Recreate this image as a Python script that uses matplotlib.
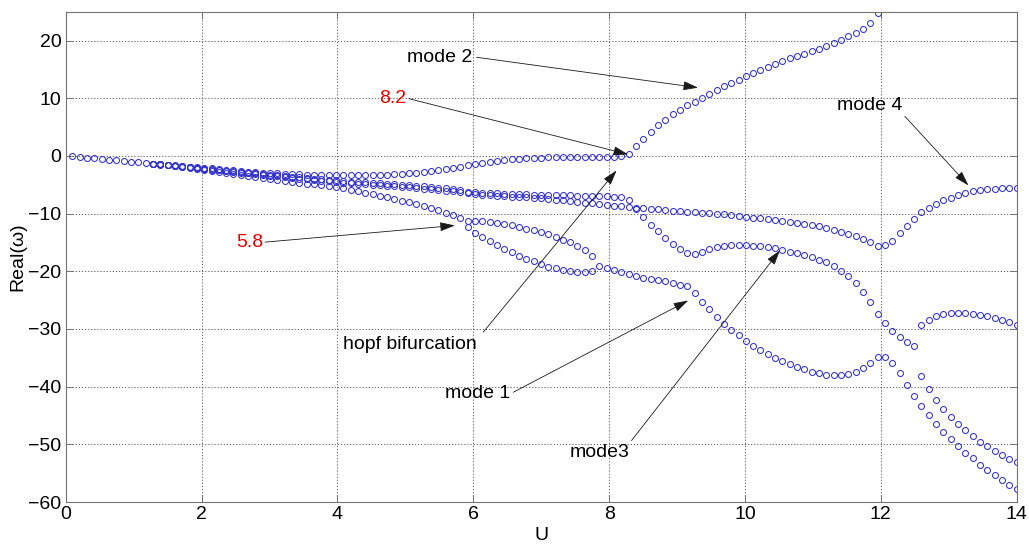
import numpy as np
import matplotlib
matplotlib.use("Agg")
import matplotlib.pyplot as plt

plt.rcParams['font.family'] = ['Liberation Sans', 'DejaVu Sans']

# Flow speed samples shared by every eigenvalue branch
U = np.linspace(0.1, 14.0, 130)

# Real part of each branch; *_start is the index into U of its first sample
mode2_start = 0
mode2 = [-0.10, -0.22, -0.33, -0.45, -0.56, -0.67, -0.79, -0.90, -1.01, -1.12, -1.23,
         -1.33, -1.44, -1.54, -1.65, -1.75, -1.86, -1.96,
         -2.06, -2.17, -2.28, -2.39, -2.50, -2.61, -2.71, -2.81, -2.91,
         -3.00, -3.05, -3.10, -3.15, -3.19, -3.23, -3.26, -3.29, -3.31,
         -3.33, -3.35, -3.36, -3.36, -3.35, -3.33, -3.29, -3.23, -3.16,
         -3.08, -2.99, -2.88, -2.77, -2.64, -2.50, -2.33, -2.14, -1.93,
         -1.62, -1.38, -1.20, -1.00, -0.85, -0.72, -0.60, -0.51, -0.43, -0.36,
         -0.30, -0.26, -0.23, -0.21, -0.19, -0.18, -0.17, -0.16, -0.15, -0.14, -0.13, -0.10,
         0.40, 1.65, 2.95, 4.20, 5.30, 6.30, 7.20, 8.00, 8.75, 9.40,
         10.05, 10.75, 11.45, 12.05, 12.60, 13.20, 13.80, 14.35, 14.85, 15.40,
         15.90, 16.40, 16.90, 17.30, 17.75, 18.20, 18.60, 19.05, 19.60, 20.15,
         20.70, 21.30, 22.00, 23.10, 24.70]

mode3_start = 11
mode3 = [-1.35, -1.47, -1.59, -1.71, -1.83, -1.95, -2.07, -2.19, -2.31, -2.43, -2.55,
         -2.67, -2.79, -2.91, -3.03, -3.15, -3.27,
         -3.38, -3.49, -3.60, -3.71, -3.82, -3.93, -4.04, -4.15, -4.26,
         -4.35, -4.44, -4.52, -4.60, -4.68, -4.76, -4.84, -4.92, -5.00,
         -5.09, -5.19, -5.30, -5.41, -5.52, -5.65, -5.80, -5.98,
         -6.20, -6.30, -6.38, -6.45, -6.50, -6.55, -6.59, -6.63, -6.67, -6.70,
         -6.74, -6.77, -6.80, -6.83, -6.86, -6.89, -6.92, -6.95, -6.98, -7.01, -7.05, -7.15, -7.70,
         -9.15, -10.60, -11.90, -13.10, -14.30, -15.30, -16.10, -16.80, -17.00, -16.60,
         -16.10, -15.80, -15.55, -15.40, -15.40, -15.50, -15.55, -15.70, -15.85, -16.05,
         -16.30, -16.60, -16.85, -17.20, -17.60, -18.00, -18.45, -19.10, -19.90, -20.90,
         -22.10, -23.60, -25.40, -27.40, -29.00, -30.40, -31.40, -32.20, -33.00]

mode4_start = 11
mode4 = [-1.36, -1.49, -1.62, -1.75, -1.88, -2.01, -2.14, -2.27, -2.40, -2.53, -2.66,
         -2.79, -2.92, -3.05, -3.18, -3.31, -3.44,
         -3.56, -3.68, -3.80, -3.92, -4.04, -4.16, -4.28, -4.40, -4.52,
         -4.62, -4.72, -4.81, -4.90, -4.99, -5.08, -5.17, -5.26, -5.35,
         -5.45, -5.55, -5.66, -5.77, -5.89, -6.01, -6.14, -6.27,
         -6.45, -6.58, -6.70, -6.80, -6.90, -6.98, -7.05, -7.12, -7.20, -7.28,
         -7.37, -7.47, -7.58, -7.72, -7.86, -7.98, -8.10, -8.24, -8.38, -8.52, -8.64, -8.74, -8.85,
         -9.00, -9.10, -9.17, -9.28, -9.42, -9.55, -9.63, -9.68, -9.78, -9.86,
         -9.93, -10.03, -10.15, -10.27, -10.42, -10.55, -10.70, -10.83, -10.95, -11.10,
         -11.25, -11.40, -11.55, -11.75, -11.95, -12.20, -12.50, -12.80, -13.15, -13.50,
         -13.90, -14.40, -15.00, -15.70, -15.50, -14.70, -13.30, -12.10, -10.90,
         -9.75, -9.00, -8.40, -7.70, -7.25, -6.85, -6.45, -6.10, -5.95, -5.80, -5.70,
         -5.60, -5.58, -5.57]

upper_split_start = 11
upper_split = [-1.37, -1.51, -1.65, -1.80, -1.95, -2.10, -2.26, -2.42, -2.60, -2.77, -2.94,
               -3.11, -3.28, -3.45, -3.62, -3.80, -3.98,
               -4.15, -4.32, -4.48, -4.64, -4.80, -4.95, -5.10, -5.25, -5.40,
               -5.63, -5.88, -6.13, -6.39, -6.65, -6.91, -7.18, -7.46, -7.75,
               -8.06, -8.38, -8.72, -9.08, -9.46, -9.86, -10.28, -10.75,
               -11.20, -11.22, -11.30, -11.40, -11.58, -11.80, -12.05, -12.30, -12.60,
               -12.90, -13.20, -13.60, -14.05, -14.50, -15.00, -15.60, -16.25, -17.30]

mode1_start = 54
mode1 = [-12.25, -13.30, -14.10, -14.80, -15.50, -16.10, -16.70, -17.30, -17.80,
         -18.30, -18.80, -19.20, -19.50, -19.80, -20.00, -20.20, -20.20, -20.00,
         -19.00, -19.40, -19.80, -20.10, -20.50, -20.85, -21.10, -21.30, -21.55, -21.75,
         -21.95, -22.30, -22.60, -23.70,
         -25.40, -26.60, -28.00, -29.10, -30.20, -31.10, -32.10, -32.90, -33.70, -34.40,
         -35.00, -35.50, -36.10, -36.60, -36.90, -37.40, -37.70, -37.90, -38.00, -38.00,
         -37.80, -37.50, -36.80, -35.90, -34.90, -34.80, -35.90, -37.70, -39.70, -41.60,
         -43.40, -44.90, -46.40, -47.80, -49.10, -50.30, -51.50, -52.40, -53.50, -54.50,
         -55.30, -56.20, -57.00, -57.80]

hump_start = 116
hump = [-29.40, -28.40, -27.70, -27.40, -27.30, -27.30, -27.30, -27.40, -27.60, -27.70,
        -28.10, -28.40, -28.80, -29.30]

lower_start = 116
lower = [-38.10, -40.40, -42.30, -43.90, -45.20, -46.40, -47.50, -48.50, -49.60, -50.30,
         -51.10, -51.80, -52.50, -53.10]

branches = [(mode2_start, mode2), (mode3_start, mode3), (mode4_start, mode4),
            (upper_split_start, upper_split), (mode1_start, mode1),
            (hump_start, hump), (lower_start, lower)]

x_ticks = [0, 2, 4, 6, 8, 10, 12, 14]
y_ticks = [-60, -50, -40, -30, -20, -10, 0, 10, 20]

fig = plt.figure(figsize=(10.29, 5.44), dpi=100)
ax = fig.add_axes([0.0638, 0.0772, 0.9242, 0.9013])

marker_color = '#3232cc'
for start, vals in branches:
    ax.plot(U[start:start + len(vals)], vals, linestyle='none', marker='o',
            markersize=4.3, markerfacecolor='none', markeredgecolor=marker_color,
            markeredgewidth=0.75)

ax.set_xlim(0, 14)
ax.set_ylim(-60, 25)
ax.set_xticks(x_ticks)
ax.set_yticks(y_ticks)
ax.grid(True, color='0.3', linestyle=(0, (1.5, 2.2)), linewidth=0.6)
ax.tick_params(direction='in', top=True, right=True, length=5, width=0.6,
               color='0.4', labelsize=14, pad=3)
for sp in ax.spines.values():
    sp.set_color('0.45')
    sp.set_linewidth(0.8)

ax.set_xlabel('U', fontsize=14, labelpad=3)
ax.set_ylabel('Real(ω)', fontsize=14, labelpad=1)

arrow_style = dict(arrowstyle='-|>,head_length=0.65,head_width=0.2', color='0.1',
                   lw=0.6, shrinkA=0, shrinkB=0, mutation_scale=14)

notes = [
    # text, text position, alignment, colour, arrow tail, arrow head
    ('mode 2', (5.99, 17.1), 'right', 'black', (6.05, 17.1), (9.31, 11.83)),
    ('8.2', (5.02, 9.92), 'right', '#e60000', (5.054, 9.92), (8.28, 0.26)),
    ('mode 4', (11.84, 8.76), 'center', 'black', (12.355, 6.85), (13.29, -5.12)),
    ('5.8', (2.91, -15.06), 'right', '#e60000', (2.934, -14.95), (5.73, -12.06)),
    ('hopf bifurcation', (4.087, -32.7), 'left', 'black', (6.147, -30.56), (8.11, -2.52)),
    ('mode 1', (6.54, -41.25), 'right', 'black', (6.59, -40.97), (9.165, -25.07)),
    ('mode3', (8.307, -51.38), 'right', 'black', (8.33, -49.35), (10.515, -16.39)),
]
for label, pos, ha, col, tail, head in notes:
    ax.text(pos[0], pos[1], label, ha=ha, va='center', fontsize=14, color=col)
    ax.annotate('', xy=head, xytext=tail, arrowprops=arrow_style)

fig.savefig('out.png', dpi=100)
